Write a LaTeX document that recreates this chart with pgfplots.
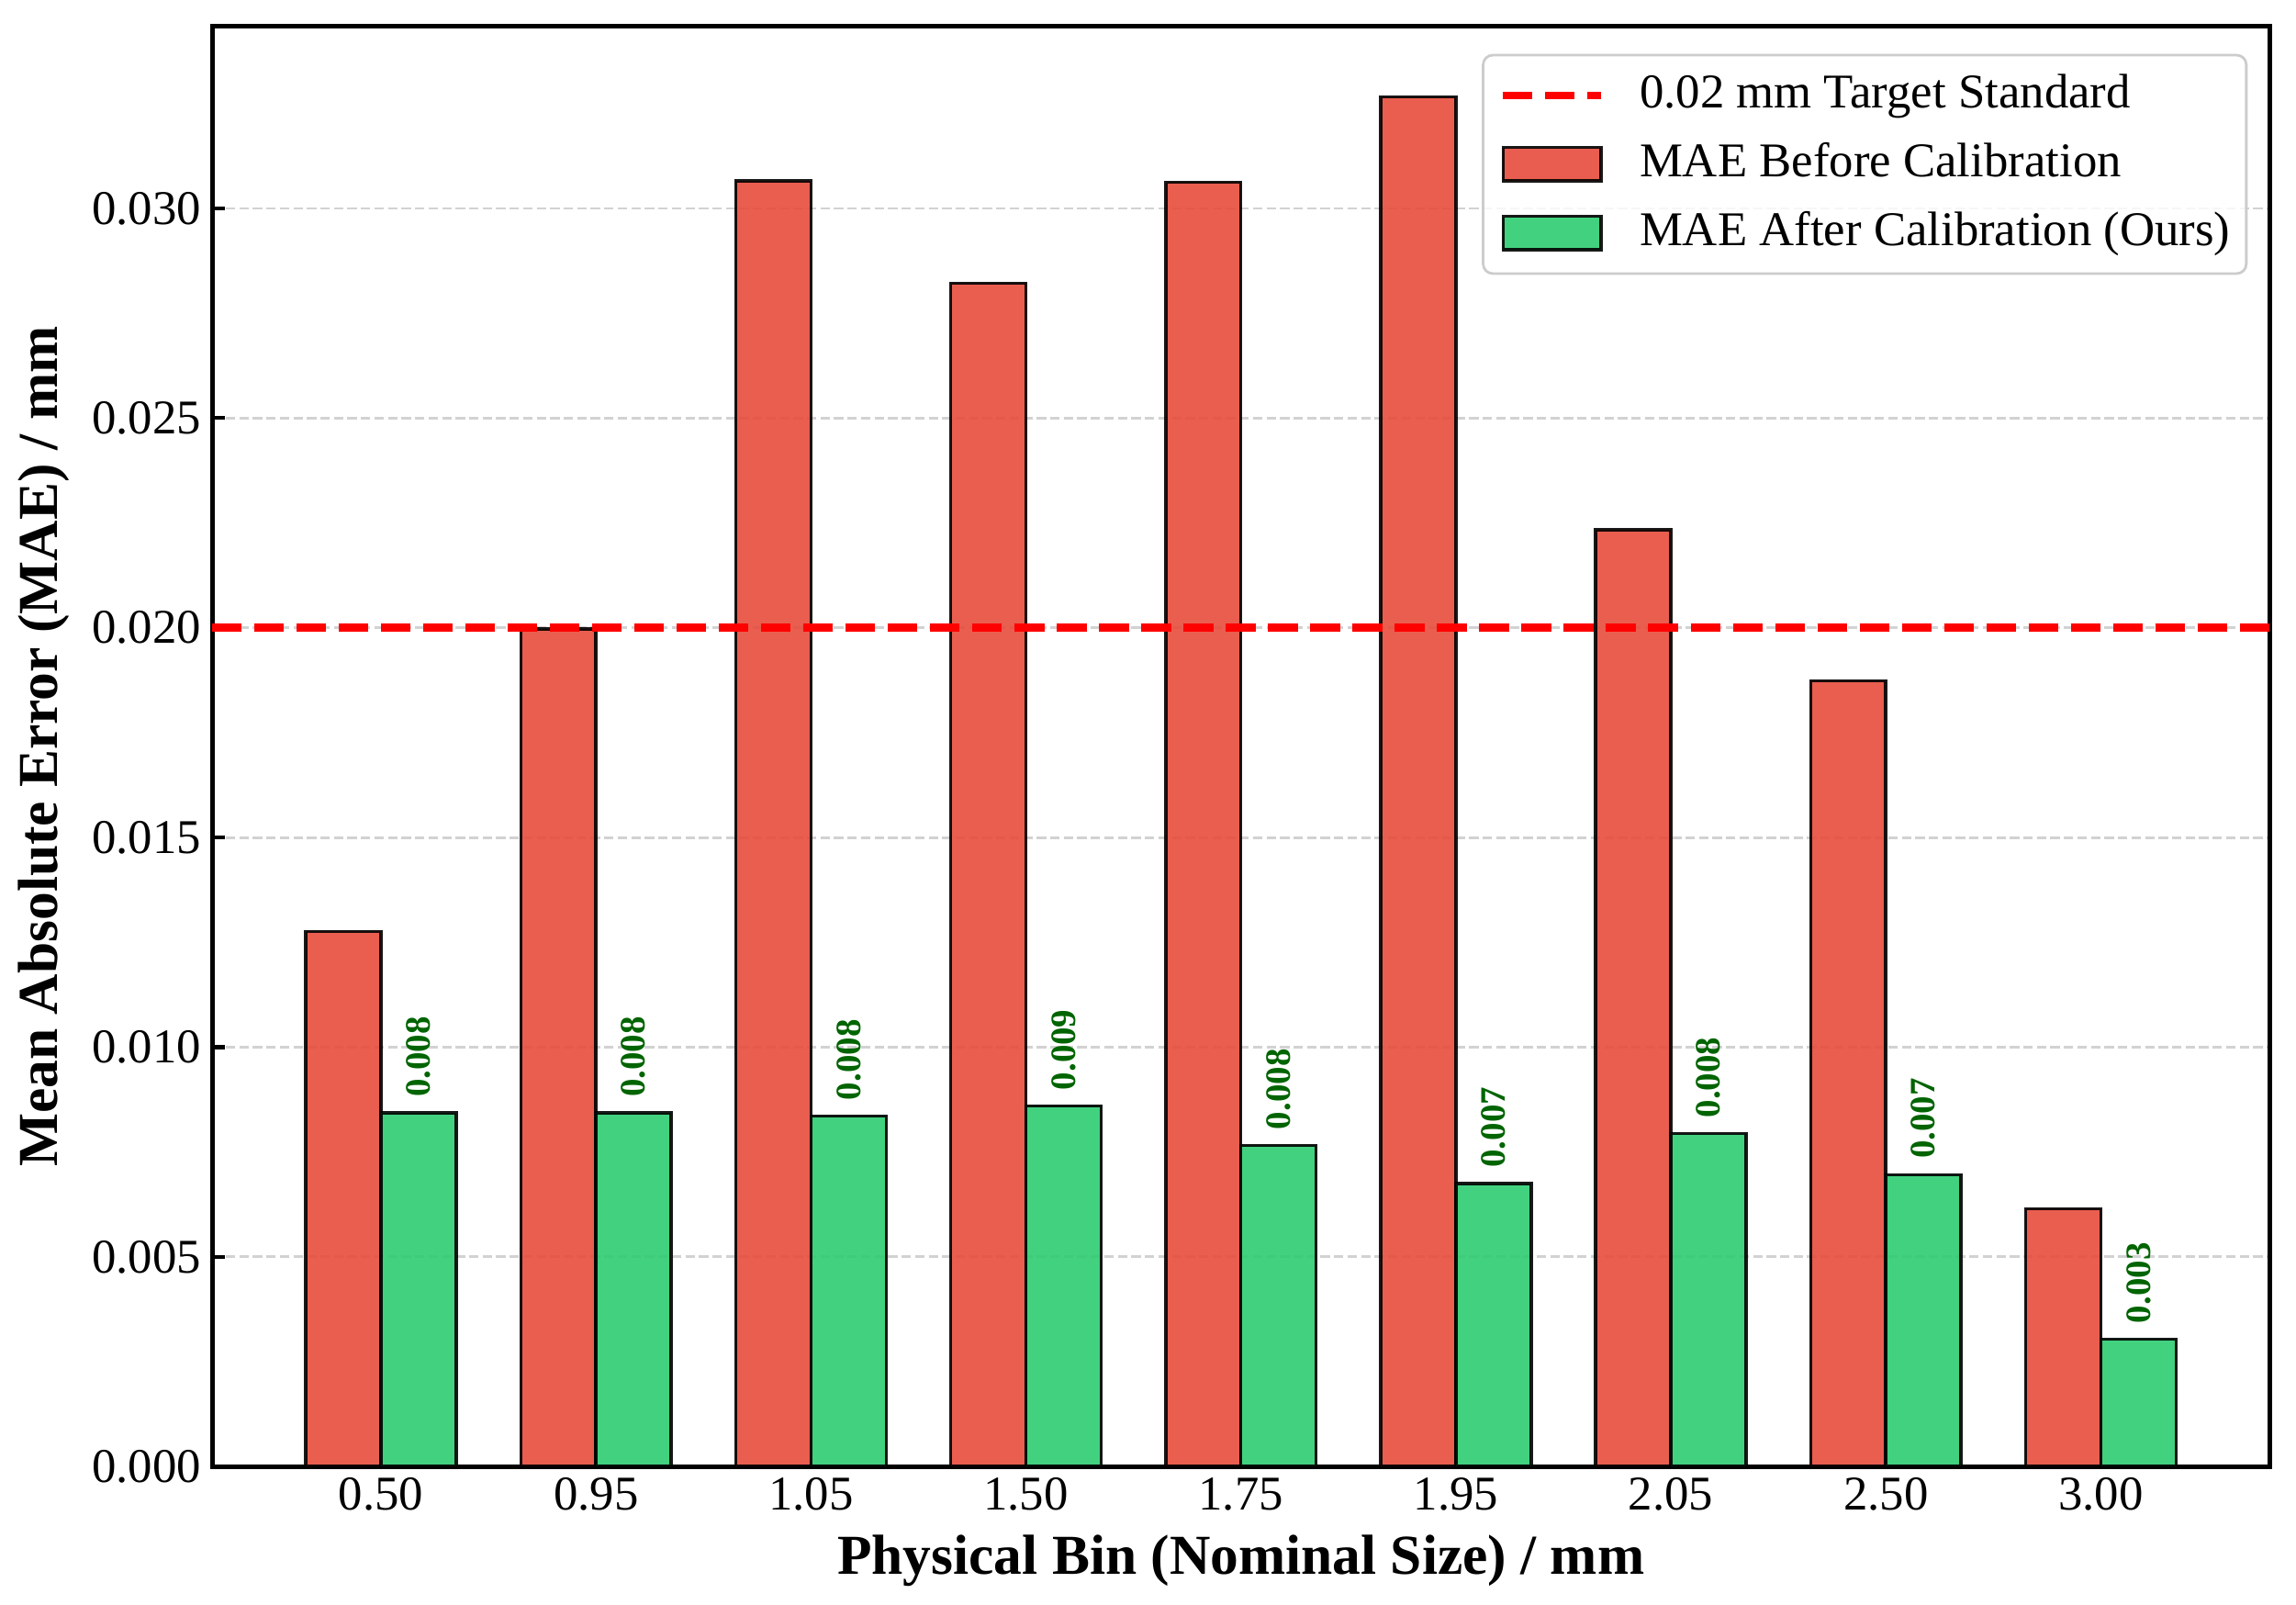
\documentclass[border=0pt]{standalone}
\usepackage{fontspec}
\setmainfont{Liberation Serif}
\usepackage{pgfplots}
\pgfplotsset{compat=1.18}
\definecolor{cred}{HTML}{E74C3C}
\definecolor{cgreen}{HTML}{2ECC71}
\definecolor{dgreen}{HTML}{006400}
\definecolor{gridgray}{HTML}{D2D2D2}
\definecolor{legedge}{HTML}{CCCCCC}
\pgfplotsset{
  barleg/.style={legend image code/.code={\draw[##1, sharp corners] (0pt,-5.25pt) rectangle (30.8pt,5.25pt);}},
  lineleg/.style={legend image code/.code={\draw[red, line width=2.5pt, dash pattern=on 9.25pt off 4pt, sharp corners, draw opacity=1] (0pt,0pt) -- (30.8pt,0pt);}},
}
\begin{document}
\begin{tikzpicture}
\begin{axis}[
  name=ax, scale only axis, width=645.4pt, height=451.7pt,
  xmin=-0.785, xmax=8.785, ymin=0, ymax=0.03434,
  axis line style={line width=1.5pt, black},
  xtick={0,1,2,3,4,5,6,7,8},
  xticklabels={0.50,0.95,1.05,1.50,1.75,1.95,2.05,2.50,3.00},
  ytick={0,0.005,0.01,0.015,0.02,0.025,0.03},
  yticklabels={0.000,0.005,0.010,0.015,0.020,0.025,0.030},
  scaled y ticks=false,
  ticklabel style={font=\fontsize{15.2}{15.2}\selectfont},
  tick align=inside,
  major tick length=4pt,
  x tick style={draw=none},
  y tick style={black, line width=1.2pt},
  ytick pos=left,
  ymajorgrids,
  major grid style={gridgray, line width=0.8pt, dash pattern=on 2.96pt off 1.28pt},
  xlabel={Physical Bin (Nominal Size) / mm},
  ylabel={Mean Absolute Error (MAE) / mm},
  xlabel style={font=\bfseries\fontsize{17.7}{17.7}\selectfont, at={(axis description cs:0.5,0)}, anchor=center, yshift=-29.5pt},
  ylabel style={font=\bfseries\fontsize{17.7}{17.7}\selectfont, at={(axis description cs:0,0.5)}, anchor=center, yshift=52.8pt},
  legend style={
    at={(1,1)}, anchor=north east, xshift=-6.9pt, yshift=-8.6pt,
    draw=legedge, line width=0.8pt, rounded corners=3pt, fill=white, fill opacity=0.8, text opacity=1,
    font=\fontsize{15.2}{15.2}\selectfont,
    inner xsep=5pt, inner ysep=5.4pt,
    row sep=7.1pt,
    cells={anchor=west},
    nodes={inner sep=0pt, text height=11pt, text depth=3.5pt},
    /tikz/every odd column/.append style={column sep=10.8pt},
  },
]
\addlegendimage{lineleg}
\addlegendentry{0.02 mm Target Standard}

\addplot[ybar, bar width=0.35, bar shift=0pt, fill=cred, draw=black, line width=1pt, fill opacity=0.9, draw opacity=0.9, barleg]
coordinates {(-0.175,0.01276) (0.825,0.01997) (1.825,0.03066) (2.825,0.02822) (3.825,0.03063) (4.825,0.03266) (5.825,0.02234) (6.825,0.01874) (7.825,0.00615)};
\addlegendentry{MAE Before Calibration}

\addplot[ybar, bar width=0.35, bar shift=0pt, fill=cgreen, draw=black, line width=1pt, fill opacity=0.9, draw opacity=0.9,
  point meta=explicit symbolic, nodes near coords,
  nodes near coords style={rotate=90, anchor=west, inner xsep=4.5pt, inner ysep=0pt, text=dgreen, text opacity=1, fill opacity=1, font=\bfseries\fontsize{11.2}{11.2}\selectfont},
  barleg]
coordinates {(0.175,0.00843)[0.008] (1.175,0.00843)[0.008] (2.175,0.00836)[0.008] (3.175,0.00860)[0.009] (4.175,0.00766)[0.008] (5.175,0.00675)[0.007] (6.175,0.00794)[0.008] (7.175,0.00696)[0.007] (8.175,0.00304)[0.003]};
\addlegendentry{MAE After Calibration (Ours)}

\addplot[forget plot, red, line width=2.5pt, dash pattern=on 9.25pt off 4pt] coordinates {(-0.785,0.02) (8.785,0.02)};
\end{axis}
\pgfresetboundingbox
\path[use as bounding box] ([xshift=-66.6pt,yshift=-43.4pt]ax.south west) rectangle ([xshift=8.3pt,yshift=8.3pt]ax.north east);
\end{tikzpicture}
\end{document}
